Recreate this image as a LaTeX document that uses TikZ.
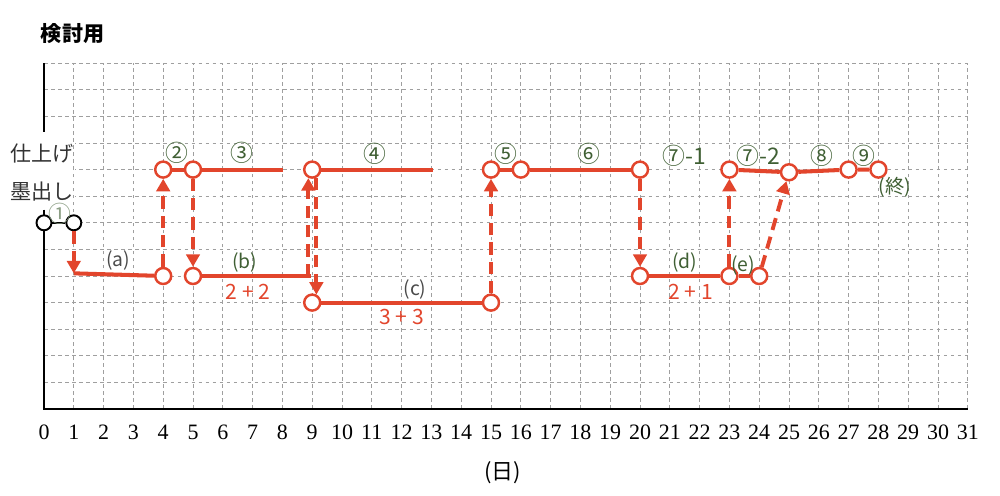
\documentclass[tikz,border=0pt]{standalone}
\usepackage{fontspec}
\setmainfont{Liberation Serif}
\newfontfamily\cjk{Noto Sans CJK JP}
\usetikzlibrary{arrows.meta}
\definecolor{rd}{HTML}{E2452C}
\definecolor{gn}{HTML}{3F5F33}
\definecolor{dg}{HTML}{4A4A4A}
\tikzset{
  gridl/.style={gray!75, line width=0.5pt, dash pattern=on 2pt off 2pt},
  axisl/.style={black, line width=1.5pt},
  rl/.style={rd, line width=2.3pt},
  da/.style={rd, line width=2.2pt, dash pattern=on 7pt off 4pt, -{Triangle[length=2.5mm,width=2.7mm]}},
  rc/.style={circle, draw=rd, fill=white, line width=1.4pt, minimum size=3.2mm, inner sep=0pt},
  bc/.style={circle, draw=black, fill=white, line width=1.1pt, minimum size=3mm, inner sep=0pt},
  num/.style={font=\cjk\fontsize{13}{15}\selectfont, text=gn, inner sep=0pt},
  lab/.style={font=\cjk\fontsize{11}{13}\selectfont, inner sep=0pt},
  sumt/.style={font=\cjk\fontsize{12}{14}\selectfont, text=rd, inner sep=0pt},
  tick/.style={font=\fontsize{12.5}{14}\selectfont, inner sep=0pt},
}
\begin{document}
\begin{tikzpicture}[x=0.596cm,y=0.532cm]
\useasboundingbox (-1.4765,-3.2331) rectangle (32.0805,15.3759);
% grid
\foreach \j in {1,...,13} \draw[gridl] (0,\j) -- (31,\j);
% label area
\fill[white] (-1.47,7.5) rectangle (1.05,10.4);
\foreach \i in {1,...,31} \draw[gridl] (\i,0) -- (\i,13);
\draw[axisl] (0,13) -- (0,10.4);
\draw[axisl] (0,7.5) -- (0,0) -- (31,0);
% title and side labels
\node[font=\cjk\bfseries\fontsize{12}{14}\selectfont] (title) at (0.96,14.13) {検討用};
\node[font=\cjk\fontsize{12}{14}\selectfont, text=black!80] (shiage) at (-0.07,9.62) {仕上げ};
\node[font=\cjk\fontsize{12}{14}\selectfont, text=black!80] (sumidashi) at (-0.07,8.18) {墨出し};
% ticks
\foreach \i in {0,...,31} \node[tick] (tk\i) at (\i,-0.87) {\i};
\node[font=\cjk\fontsize{12.5}{14}\selectfont] (hi) at (15.4,-2.4) {(日)};
% step 1
\node[bc] (s1) at (0,7) {};
\node[bc] (e1) at (1,7) {};
\draw[black, line width=1.2pt] (s1) -- (e1);
\node[num, text=gn!60] (n1) at (0.54,7.33) {①};
% (a)
\coordinate (a0) at (1,5.1);
\node[rc] (a1) at (4,5) {};
\draw[rl] (a0) -- (a1);
\draw[da] (e1) -- (a0);
% top 2,3
\node[rc] (t2) at (4,9) {};
\node[rc] (t3) at (5,9) {};
\coordinate (t3e) at (8.02,9);
\draw[rl] (t2) -- (t3) -- (t3e);
\draw[da] (a1) -- (t2);
% (b)
\node[rc] (b1) at (5,5) {};
\coordinate (b1e) at (8.95,5);
\draw[rl] (b1) -- (b1e);
\draw[da] (t3) -- (b1);
% 4
\node[rc] (t4) at (9,9) {};
\coordinate (t4e) at (13.05,9);
\draw[rl] (t4) -- (t4e);
% (c)
\node[rc] (c1) at (9,4) {};
\node[rc] (c2) at (15,4) {};
\draw[rl] (c1) -- (c2);
\coordinate (u9a) at (8.87,5);
\coordinate (u9b) at (8.87,8.68);
\draw[da] (u9a) -- (u9b);
\coordinate (d9a) at (9.14,8.7);
\coordinate (d9b) at (9.14,4.3);
\draw[da] (d9a) -- (d9b);
% 5,6
\node[rc] (t5) at (15,9) {};
\node[rc] (t6) at (16,9) {};
\node[rc] (t7) at (20,9) {};
\draw[da] (c2) -- (t5);
\draw[rl] (t5) -- (t6) -- (t7);
% (d),(e)
\node[rc] (d1) at (20,5) {};
\node[rc] (d2) at (23,5) {};
\node[rc] (d3) at (24,5) {};
\draw[da] (t7) -- (d1);
\draw[rl] (d1) -- (d2) -- (d3);
% 7-2, 8, 9
\node[rc] (t8) at (23,9) {};
\node[rc] (t9) at (25,8.9) {};
\node[rc] (t10) at (27,9) {};
\node[rc] (t11) at (28,9) {};
\draw[rl] (t8) -- (t9) -- (t10) -- (t11);
\draw[da] (d2) -- (t8);
\draw[da] (d3) -- (t9);
% labels
\node[num] (n2) at (4.46,9.62) {②};
\node[num] (n3) at (6.64,9.62) {③};
\node[num] (n4) at (11.1,9.6) {④};
\node[num] (n5) at (15.5,9.6) {⑤};
\node[num] (n6) at (18.3,9.6) {⑥};
\node[num] (n71) at (21.5,9.5) {⑦-1};
\node[num] (n72) at (23.97,9.5) {⑦-2};
\node[num] (n8) at (26.1,9.52) {⑧};
\node[num] (n9) at (27.5,9.52) {⑨};
\node[lab, text=gn] (fin) at (28.56,8.35) {(終)};
\node[lab, text=dg] (la) at (2.49,5.6) {(a)};
\node[lab, text=gn] (lb) at (6.74,5.49) {(b)};
\node[sumt] (sb) at (6.85,4.4) {2 + 2};
\node[lab, text=dg] (lc) at (12.45,4.5) {(c)};
\node[sumt] (sc) at (12.0,3.46) {3 + 3};
\node[lab, text=gn] (ld) at (21.5,5.5) {(d)};
\node[sumt] (sd) at (21.7,4.4) {2 + 1};
\node[lab, text=gn] (le) at (23.46,5.4) {(e)};
\end{tikzpicture}
\end{document}
